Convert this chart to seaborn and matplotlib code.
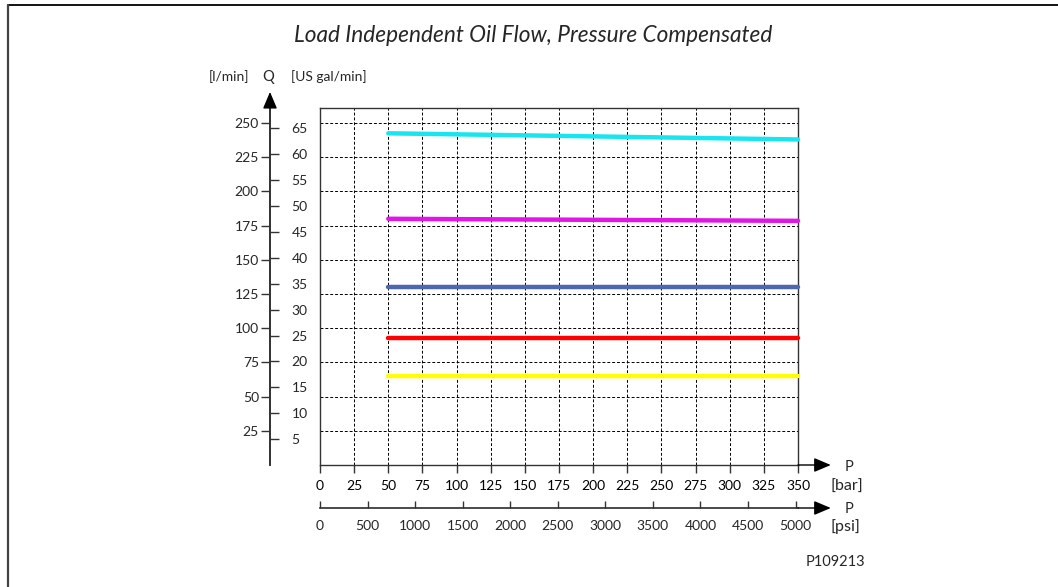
import pandas as pd
import numpy as np
import matplotlib.pyplot as plt
import seaborn as sns
from matplotlib.lines import Line2D

# Dados
pressao_bar = [50, 350]
vazao_ciano = [242.5, 238.0]
vazao_magenta = [180.0, 178.5]
vazao_azul = [130.0, 130.0]
vazao_vermelho = [93.0, 93.0]
vazao_amarelo = [65.0, 65.0]

ticks_bar = list(range(0, 351, 25))
ticks_lmin = list(range(25, 251, 25))
ticks_gal = list(range(5, 66, 5))
ticks_psi = list(range(0, 5001, 500))

L_POR_GAL = 3.785
PSI_POR_BAR = 14.36  # escala do eixo psi como desenhada

cores = {
    "ciano": "#17e6f0",
    "magenta": "#e015e6",
    "azul": "#4f66b0",
    "vermelho": "#ff0000",
    "amarelo": "#ffff00",
}

sns.set_theme(style="white")
plt.rcParams['font.family'] = ['Lato', 'DejaVu Sans']

W, H = 1058, 587
fig = plt.figure(figsize=(W / 100, H / 100), dpi=100)
ax = fig.add_axes([320 / W, (H - 465) / H, 478 / W, 357 / H])

df = pd.concat([
    pd.DataFrame({"pressao": pressao_bar, "vazao": vazao_ciano, "curva": "ciano"}),
    pd.DataFrame({"pressao": pressao_bar, "vazao": vazao_magenta, "curva": "magenta"}),
    pd.DataFrame({"pressao": pressao_bar, "vazao": vazao_azul, "curva": "azul"}),
    pd.DataFrame({"pressao": pressao_bar, "vazao": vazao_vermelho, "curva": "vermelho"}),
    pd.DataFrame({"pressao": pressao_bar, "vazao": vazao_amarelo, "curva": "amarelo"}),
])
sns.lineplot(data=df, x="pressao", y="vazao", hue="curva", palette=cores,
             linewidth=3.2, legend=False, ax=ax, solid_capstyle='round',
             zorder=3, clip_on=False)

ax.set_xlim(0, 350)
ax.set_ylim(0, 261)
ax.set_xlabel('')
ax.set_ylabel('')

# grade tracejada
ax.set_xticks(ticks_bar)
ax.set_yticks(ticks_lmin)
ax.set_axisbelow(True)
ax.grid(True, color='black', linestyle=(0, (3, 2)), linewidth=0.7)
for s in ax.spines.values():
    s.set_color('#333333')
    s.set_linewidth(1.0)
ax.tick_params(axis='y', left=False, labelleft=False, right=False)
ax.tick_params(axis='x', bottom=True, direction='out', length=6, width=1,
               color='#333333', pad=4.5, labelsize=10, labelcolor='black')

# eixo Q (l/min a esquerda, US gal/min a direita)
pos_q = -50 / 478
q_l = ax.secondary_yaxis(pos_q)
q_l.set_yticks(ticks_lmin)
q_l.tick_params(direction='out', length=6.5, width=1, color='#333333',
                pad=1.5, labelsize=10)
q_l.spines['left'].set_color('#333333')

q_g = ax.secondary_yaxis(pos_q, functions=(lambda l: l / L_POR_GAL,
                                           lambda g: g * L_POR_GAL))
q_g.set_alignment('right')
q_g.set_yticks(ticks_gal)
q_g.tick_params(direction='out', length=6.5, width=1, color='#333333',
                pad=9, labelsize=10)
q_g.spines['right'].set_color('#333333')

# eixo psi
pos_psi = -43 / 357
p_psi = ax.secondary_xaxis(pos_psi, functions=(lambda b: b * PSI_POR_BAR,
                                               lambda p: p / PSI_POR_BAR))
p_psi.set_xticks(ticks_psi)
p_psi.tick_params(direction='in', length=5, width=1, color='#333333',
                  pad=9, labelsize=10)
p_psi.spines['bottom'].set_color('#333333')

# setas dos eixos
seta = dict(arrowstyle='-|>,head_length=0.85,head_width=0.36', color='black',
            lw=1, shrinkA=0, shrinkB=0)
ax.annotate('', xy=(374, 0), xytext=(350, 0), xycoords=('data', 'axes fraction'),
            textcoords=('data', 'axes fraction'), arrowprops=seta, annotation_clip=False)
ax.annotate('', xy=(374, pos_psi), xytext=(350, pos_psi), xycoords=('data', 'axes fraction'),
            textcoords=('data', 'axes fraction'), arrowprops=seta, annotation_clip=False)
ax.annotate('', xy=(pos_q, 1.045), xytext=(pos_q, 1.0), xycoords='axes fraction',
            arrowprops=seta, annotation_clip=False)

# textos
fig.text(533 / W, 1 - 35.5 / H, 'Load Independent Oil Flow, Pressure Compensated',
         ha='center', va='center', fontsize=16.3, style='italic')
fig.text(249 / W, 1 - 77 / H, '[l/min]', ha='right', va='center', fontsize=10)
fig.text(268.5 / W, 1 - 77 / H, 'Q', ha='center', va='center', fontsize=10.5)
fig.text(291 / W, 1 - 77 / H, '[US gal/min]', ha='left', va='center', fontsize=10)
fig.text(849 / W, 1 - 467 / H, 'P', ha='center', va='center', fontsize=10.5)
fig.text(831 / W, 1 - 487 / H, '[bar]', ha='left', va='center', fontsize=11.5)
fig.text(849 / W, 1 - 509 / H, 'P', ha='center', va='center', fontsize=10.5)
fig.text(831 / W, 1 - 527 / H, '[psi]', ha='left', va='center', fontsize=11.5)
fig.text(865 / W, 1 - 562 / H, 'P109213', ha='right', va='center', fontsize=10.5)

# moldura
fig.add_artist(Line2D([8 / W, 1], [1 - 4.5 / H, 1 - 4.5 / H], color='black', lw=1.3))
fig.add_artist(Line2D([8 / W, 8 / W], [0, 1 - 4.5 / H], color='#444444', lw=1.6))

fig.savefig('out.png', dpi=100)
plt.close(fig)
